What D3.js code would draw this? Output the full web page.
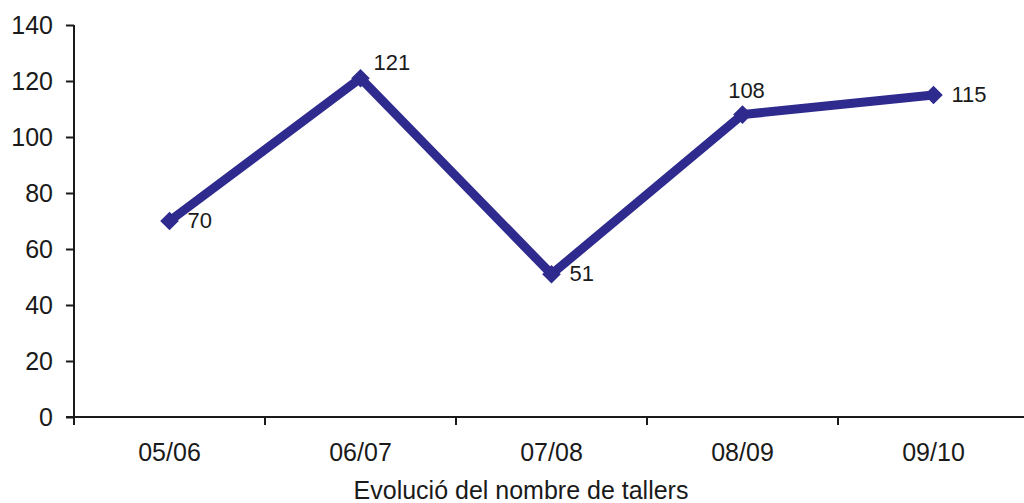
<!DOCTYPE html>
<html><head><meta charset="utf-8">
<script src="https://cdn.jsdelivr.net/npm/d3@7"></script>
<style>body{margin:0;background:#fff}svg{display:block}text{font-family:"Liberation Sans",Arial,sans-serif}</style>
</head><body>
<script>
const categories = ["05/06","06/07","07/08","08/09","09/10"];
const values = [70,121,51,108,115];
const labelPlacement = ["right","aboveRight","right","above","right"];
const yTicks = [0,20,40,60,80,100,120,140];
const title = "Evolució del nombre de tallers";

const W=1024,H=503;
const svg=d3.select("body").append("svg").attr("width",W).attr("height",H);
const x0=74, x1=1029, yTop=25, yBot=417;
const x=d3.scaleBand().domain(categories).range([x0,x1]);
const y=d3.scaleLinear().domain([0,140]).range([yBot,yTop]);
const col="#2e2a8e";
const ink="#1a1a1a";

const ya=svg.append("g").attr("transform",`translate(${x0},0)`)
  .call(d3.axisLeft(y).tickValues(yTicks).tickSize(8).tickPadding(13));
ya.selectAll("path,line").attr("stroke",ink).attr("stroke-width",2);
ya.select("path").attr("d",`M0,${yTop}V${yBot}`);
ya.selectAll("text").attr("font-size",25).attr("fill",ink).attr("font-family","Liberation Sans, Arial, sans-serif");

const tickPos=d3.range(categories.length+1).map(i=>x0+i*x.step());
const xa=svg.append("g").attr("transform",`translate(0,${yBot})`);
xa.append("line").attr("x1",x0-8).attr("x2",x1).attr("stroke",ink).attr("stroke-width",2);
xa.selectAll(".t").data(tickPos).join("line").attr("x1",d=>d).attr("x2",d=>d).attr("y1",0).attr("y2",8).attr("stroke",ink).attr("stroke-width",2);
xa.selectAll(".l").data(categories).join("text").attr("x",d=>x(d)+x.bandwidth()/2).attr("y",44)
  .attr("text-anchor","middle").attr("font-size",25).attr("fill",ink).text(d=>d);

const cx=(d,i)=>x(categories[i])+x.bandwidth()/2;
const line=d3.line().x((d,i)=>cx(d,i)).y(d=>y(d));
svg.append("path").datum(values).attr("d",line).attr("fill","none").attr("stroke",col).attr("stroke-width",9).attr("stroke-linejoin","miter");
svg.selectAll(".m").data(values).join("path")
  .attr("d",d3.symbol(d3.symbolDiamond2,220)())
  .attr("transform",(d,i)=>`translate(${cx(d,i)},${y(d)})`).attr("fill",col);

const off={right:[18,7,"start"],aboveRight:[13,-8,"start"],above:[4,-17,"middle"]};
svg.selectAll(".dl").data(values).join("text")
  .attr("x",(d,i)=>cx(d,i)+off[labelPlacement[i]][0])
  .attr("y",(d,i)=>y(d)+off[labelPlacement[i]][1])
  .attr("text-anchor",(d,i)=>off[labelPlacement[i]][2])
  .attr("font-size",22).attr("fill",ink).text(d=>d);

svg.append("text").attr("x",521).attr("y",499).attr("text-anchor","middle").attr("font-size",25).attr("fill",ink).text(title);
</script>
</body></html>
